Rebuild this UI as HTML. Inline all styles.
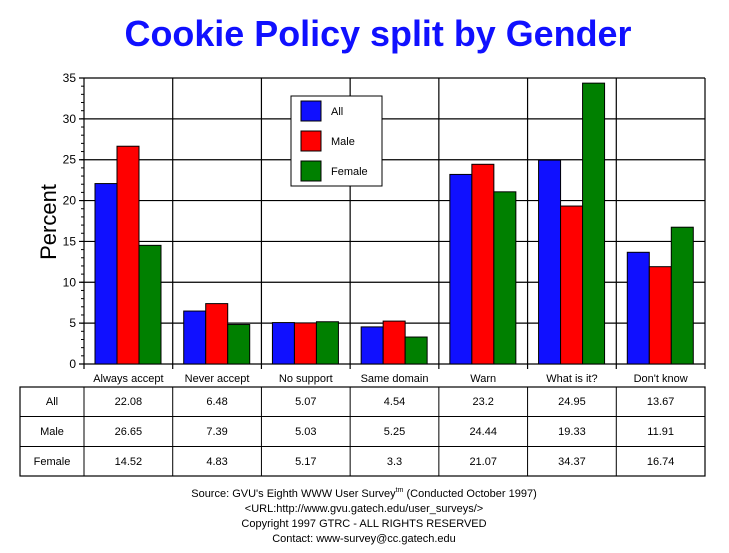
<!DOCTYPE html>
<html><head><meta charset="utf-8"><style>
html,body{margin:0;padding:0;background:#fff}
svg{display:block;font-family:"Liberation Sans",Arial,sans-serif}
</style></head><body>
<svg id="s" width="729" height="553" viewBox="0 0 729 553" xmlns="http://www.w3.org/2000/svg">
<text x="378" y="46" text-anchor="middle" font-size="36" font-weight="bold" fill="#1010ff" textLength="507" lengthAdjust="spacingAndGlyphs">Cookie Policy split by Gender</text>
<text transform="translate(56,222) rotate(-90)" text-anchor="middle" font-size="22" fill="#000">Percent</text>
<g id="g"></g>
<g font-size="11" text-anchor="middle" fill="#000">
<text x="364" y="497">Source: GVU's Eighth WWW User Survey<tspan font-size="7" dy="-5">tm</tspan><tspan dy="5"> (Conducted October 1997)</tspan></text>
<text x="364" y="512">&lt;URL:http://www.gvu.gatech.edu/user_surveys/&gt;</text>
<text x="364" y="527">Copyright 1997 GTRC - ALL RIGHTS RESERVED</text>
<text x="364" y="542">Contact: www-survey@cc.gatech.edu</text>
</g>
</svg>
<script>
var g=document.getElementById('g'),h='';
var X0=84,X1=705,Y0=364,YT=78,k=(Y0-YT)/35,cw=(X1-X0)/7;
var cats=["Always accept","Never accept","No support","Same domain","Warn","What is it?","Don't know"];
var d=[[22.08,6.48,5.07,4.54,23.2,24.95,13.67],[26.65,7.39,5.03,5.25,24.44,19.33,11.91],[14.52,4.83,5.17,3.3,21.07,34.37,16.74]];
var cols=["#1010ff","#ff0000","#008000"],names=["All","Male","Female"];
for(var v=0;v<=35;v+=5){var y=Y0-v*k;h+='<line x1="'+(X0-5)+'" x2="'+X1+'" y1="'+y+'" y2="'+y+'" stroke="#000" stroke-width="1.2"/>';h+='<text x="'+(X0-8)+'" y="'+(y+4)+'" font-size="12" text-anchor="end">'+v+'</text>';}
for(var v=0;v<=35;v++){var y=Y0-v*k;h+='<line x1="'+(X0-3)+'" x2="'+X0+'" y1="'+y+'" y2="'+y+'" stroke="#000"/>';}
for(var i=0;i<=7;i++){var x=X0+i*cw;h+='<line x1="'+x+'" x2="'+x+'" y1="'+YT+'" y2="'+(Y0+5)+'" stroke="#000" stroke-width="1.2"/>';}
for(var i=0;i<7;i++){var bx=X0+i*cw+11;for(var s=0;s<3;s++){var bh=d[s][i]*k;h+='<rect x="'+(bx+s*22)+'" y="'+(Y0-bh)+'" width="22" height="'+bh+'" fill="'+cols[s]+'" stroke="#000" stroke-width="1"/>';}
h+='<text x="'+(X0+i*cw+cw/2)+'" y="382" font-size="11" text-anchor="middle">'+cats[i]+'</text>';}
// legend
h+='<rect x="291" y="96" width="91" height="90" fill="#fff" stroke="#000"/>';
for(var s=0;s<3;s++){h+='<rect x="301" y="'+(101+30*s)+'" width="20" height="20" fill="'+cols[s]+'" stroke="#000"/>';h+='<text x="331" y="'+(115+30*s)+'" font-size="11">'+names[s]+'</text>';}
// table
h+='<rect x="20" y="387" width="685" height="89" fill="none" stroke="#000" stroke-width="1.2"/>';
h+='<line x1="20" x2="705" y1="416.5" y2="416.5" stroke="#000"/><line x1="20" x2="705" y1="446.5" y2="446.5" stroke="#000"/>';
for(var i=0;i<7;i++){var x=X0+i*cw;h+='<line x1="'+x+'" x2="'+x+'" y1="387" y2="476" stroke="#000"/>';}
for(var s=0;s<3;s++){var y=405+30*s;h+='<text x="52" y="'+y+'" font-size="11" text-anchor="middle">'+names[s]+'</text>';
for(var i=0;i<7;i++)h+='<text x="'+(X0+i*cw+cw/2)+'" y="'+y+'" font-size="11" text-anchor="middle">'+d[s][i]+'</text>';}
g.innerHTML=h;
</script>
</body></html>
